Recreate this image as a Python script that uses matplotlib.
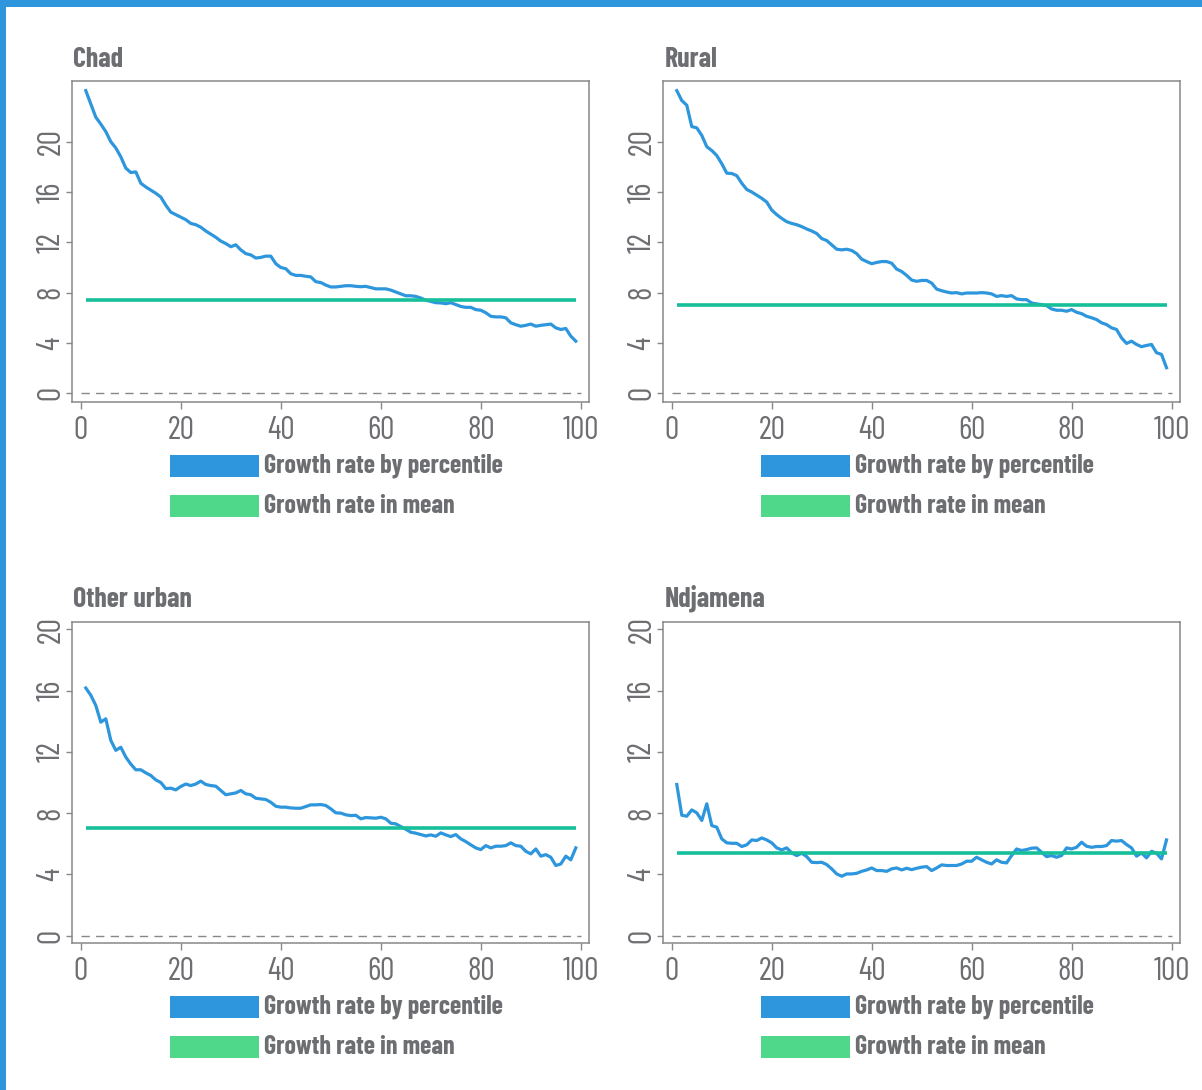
import numpy as np
import matplotlib
matplotlib.use("Agg")
import matplotlib.pyplot as plt
from matplotlib.patches import Rectangle
from matplotlib import font_manager

W, H = 1202, 1090
names = {f.name for f in font_manager.fontManager.ttflist}
pick = [n for n in ["Barlow Condensed", "Roboto Condensed", "Archivo Narrow",
                    "PT Sans Narrow", "Liberation Sans Narrow"] if n in names]
plt.rcParams['font.family'] = pick[:1] + ["DejaVu Sans"]

GRAY = "#6d6e71"
BLUE = "#2d96dc"
TEAL = "#16bf9a"
GREEN = "#50d88a"

pct = np.arange(1, 100)

chad = [24.06, 23.0, 21.95, 21.4, 20.8, 20.0, 19.5, 18.8, 17.9, 17.55,
        17.6, 16.7, 16.4, 16.15, 15.9, 15.6, 14.95, 14.4, 14.2, 14.0,
        13.8, 13.5, 13.4, 13.2, 12.9, 12.65, 12.4, 12.1, 11.9, 11.65,
        11.8, 11.4, 11.1, 11.0, 10.75, 10.8, 10.9, 10.9, 10.3, 10.0,
        9.9, 9.5, 9.37, 9.37, 9.3, 9.25, 8.87, 8.8, 8.6, 8.45,
        8.45, 8.5, 8.55, 8.55, 8.5, 8.47, 8.5, 8.4, 8.3, 8.3,
        8.3, 8.2, 8.05, 7.9, 7.75, 7.75, 7.7, 7.57, 7.4, 7.3,
        7.2, 7.18, 7.12, 7.2, 7.05, 6.9, 6.83, 6.83, 6.65, 6.6,
        6.4, 6.12, 6.07, 6.07, 6.0, 5.6, 5.45, 5.33, 5.4, 5.5,
        5.33, 5.4, 5.45, 5.5, 5.2, 5.07, 5.15, 4.54, 4.14]

rural = [24.06, 23.27, 22.9, 21.2, 21.1, 20.5, 19.6, 19.3, 18.9, 18.25,
         17.5, 17.47, 17.3, 16.7, 16.2, 16.0, 15.75, 15.5, 15.2, 14.56,
         14.2, 13.9, 13.64, 13.5, 13.4, 13.25, 13.06, 12.9, 12.7, 12.3,
         12.14, 11.8, 11.45, 11.4, 11.45, 11.35, 11.1, 10.66, 10.47, 10.3,
         10.4, 10.47, 10.47, 10.34, 9.87, 9.68, 9.37, 9.0, 8.9, 8.97,
         8.97, 8.76, 8.28, 8.15, 8.05, 7.97, 8.0, 7.9, 7.97, 7.97,
         7.97, 8.0, 7.97, 7.9, 7.7, 7.76, 7.7, 7.76, 7.5, 7.44,
         7.44, 7.18, 7.1, 7.05, 6.97, 6.7, 6.6, 6.6, 6.52, 6.65,
         6.44, 6.33, 6.12, 6.0, 5.86, 5.6, 5.46, 5.2, 5.07, 4.4,
         3.96, 4.14, 3.88, 3.7, 3.8, 3.88, 3.22, 3.09, 2.03]

other_urban = [16.17, 15.7, 15.03, 13.94, 14.16, 12.75, 12.1, 12.3, 11.66, 11.2,
               10.83, 10.83, 10.63, 10.46, 10.17, 10.0, 9.6, 9.63, 9.52, 9.74,
               9.9, 9.8, 9.9, 10.09, 9.87, 9.8, 9.76, 9.48, 9.2, 9.26,
               9.32, 9.48, 9.26, 9.2, 8.97, 8.93, 8.89, 8.71, 8.45, 8.39,
               8.39, 8.34, 8.32, 8.32, 8.43, 8.54, 8.54, 8.56, 8.5, 8.28,
               8.02, 8.0, 7.89, 7.84, 7.86, 7.63, 7.71, 7.69, 7.67, 7.73,
               7.63, 7.34, 7.3, 7.12, 6.95, 6.75, 6.69, 6.6, 6.51, 6.58,
               6.49, 6.71, 6.58, 6.47, 6.6, 6.32, 6.14, 5.93, 5.73, 5.62,
               5.88, 5.73, 5.84, 5.84, 5.88, 6.06, 5.88, 5.84, 5.51, 5.34,
               5.66, 5.19, 5.29, 5.12, 4.58, 4.68, 5.19, 4.95, 5.73]

ndjamena = [9.87, 7.86, 7.8, 8.21, 8.02, 7.52, 8.61, 7.19, 7.08, 6.32,
            6.06, 6.03, 6.03, 5.82, 5.93, 6.25, 6.21, 6.38, 6.25, 6.06,
            5.73, 5.6, 5.73, 5.4, 5.23, 5.38, 5.16, 4.79, 4.77, 4.79,
            4.64, 4.36, 4.03, 3.88, 4.03, 4.03, 4.07, 4.2, 4.29, 4.42,
            4.25, 4.25, 4.2, 4.36, 4.42, 4.29, 4.4, 4.31, 4.4, 4.47,
            4.51, 4.25, 4.42, 4.62, 4.58, 4.58, 4.58, 4.68, 4.86, 4.86,
            5.12, 4.95, 4.79, 4.68, 4.95, 4.79, 4.75, 5.23, 5.66, 5.56,
            5.62, 5.71, 5.73, 5.45, 5.16, 5.23, 5.12, 5.23, 5.73, 5.66,
            5.77, 6.1, 5.84, 5.77, 5.82, 5.82, 5.88, 6.21, 6.17, 6.21,
            5.95, 5.73, 5.19, 5.4, 5.08, 5.51, 5.38, 5.01, 6.25]

titles = ["Chad", "Rural", "Other urban", "Ndjamena"]
series = [chad, rural, other_urban, ndjamena]
means = [7.44, 7.0, 7.04, 5.4]
ylims = [(-0.72, 24.85), (-0.72, 24.85), (-0.5, 20.5), (-0.5, 20.5)]
legend_labels = ["Growth rate by percentile", "Growth rate in mean"]

# axes boxes in pixels: left, top, right, bottom
boxes = [(72.3, 80.7, 589.3, 402.3), (663.3, 80.7, 1180.0, 402.3),
         (72.3, 621.7, 589.3, 943.3), (663.3, 621.7, 1180.0, 943.3)]

fig = plt.figure(figsize=(W / 100, H / 100), dpi=100)
fig.patch.set_facecolor("white")
renderer = fig.canvas.get_renderer()


def fit_size(s, target_px, weight):
    # font size that gives the text the width it has in the reference
    t = fig.text(0, 0, s, fontsize=20, fontweight=weight)
    w = t.get_window_extent(renderer).width
    t.remove()
    return 20 * target_px / w


title_fs = fit_size("Chad", 50, "bold")
legend_fs = fit_size(legend_labels[0], 239, "bold")
tick_fs = 23

# blue frame on top and left
fig.add_artist(Rectangle((0, 1 - 6.5 / H), 1, 6.5 / H, transform=fig.transFigure,
                         color=BLUE, lw=0))
fig.add_artist(Rectangle((0, 0), 6 / W, 1, transform=fig.transFigure,
                         color=BLUE, lw=0))

for i in range(4):
    l, t, r, b = boxes[i]
    ax = fig.add_axes([l / W, 1 - b / H, (r - l) / W, (b - t) / H])
    ax.plot(pct, series[i], color=BLUE, lw=2.3)
    ax.hlines(means[i], 1, 99, color=TEAL, lw=2.6)
    ax.hlines(0, 0, 100, color="#888888", lw=1, linestyles=(0, (6, 4.5)))
    ax.set_xlim(-1.7, 101.7)
    ax.set_ylim(*ylims[i])
    ax.set_xticks([0, 20, 40, 60, 80, 100])
    ax.set_yticks([0, 4, 8, 12, 16, 20])
    for s in ax.spines.values():
        s.set_color("#888888")
        s.set_linewidth(1.1)
    ax.tick_params(colors="#888888", labelcolor=GRAY, labelsize=tick_fs, width=1)
    ax.tick_params(axis="x", length=5, pad=5)
    ax.tick_params(axis="y", length=4, pad=0)
    for lab in ax.get_yticklabels():
        lab.set_rotation(90)
        lab.set_va("center")

    fig.text((l + 1) / W, 1 - 67 / H if i < 2 else 1 - 607 / H, titles[i],
             fontsize=title_fs, fontweight="bold", color=GRAY, ha="left", va="baseline")

    # legend drawn below the panel
    for k, col in enumerate([BLUE, GREEN]):
        ry = b + 52.7 + 40 * k
        fig.add_artist(Rectangle(((l + 97.7) / W, 1 - (ry + 22) / H), 89 / W, 22 / H,
                                 transform=fig.transFigure, color=col, lw=0))
        fig.text((l + 97.7 + 94) / W, 1 - (ry + 11) / H, legend_labels[k],
                 fontsize=legend_fs, fontweight="bold", color=GRAY, ha="left", va="center")

fig.savefig("out.png", dpi=100)
